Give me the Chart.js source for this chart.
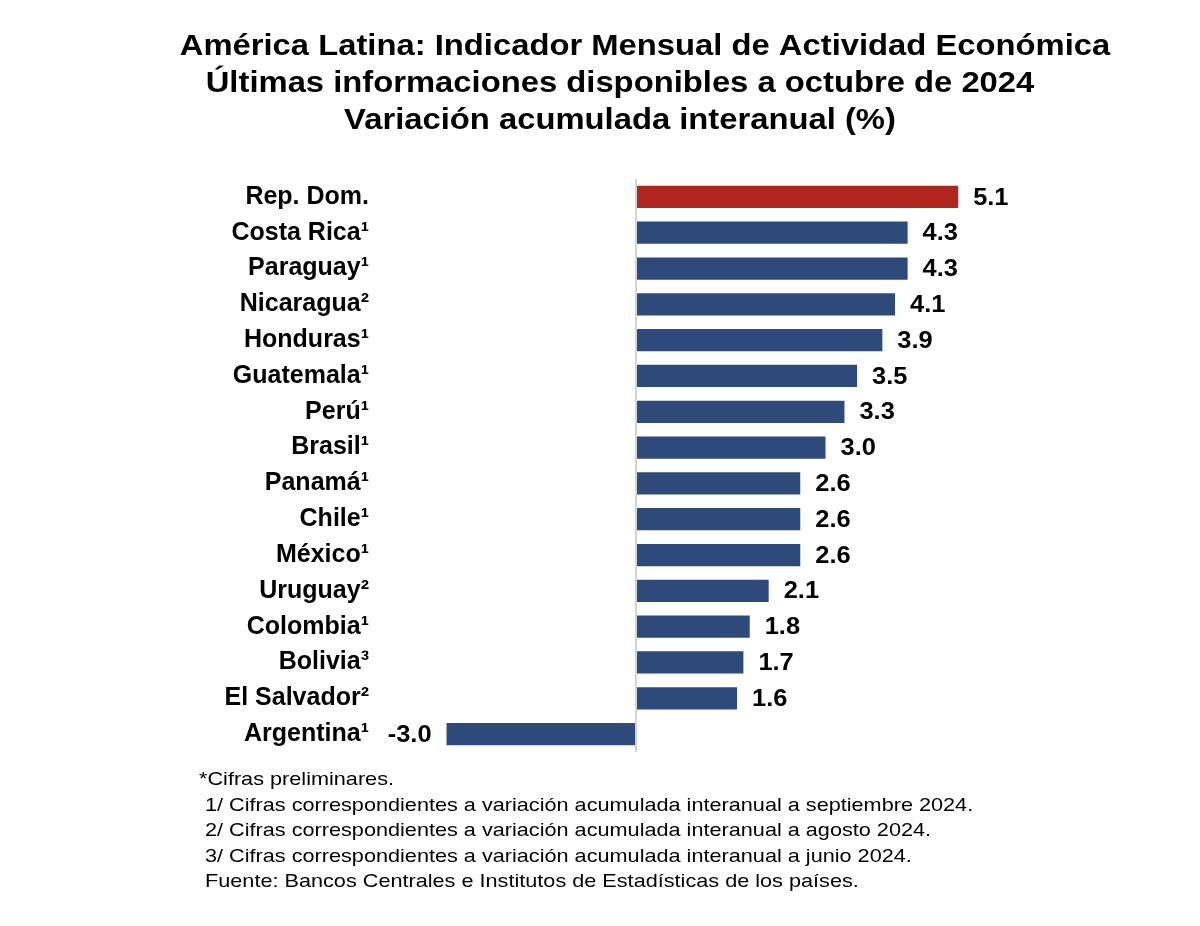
<!DOCTYPE html>
<html lang="es">
<head>
<meta charset="utf-8">
<title>América Latina: Indicador Mensual de Actividad Económica</title>
<script src="https://cdn.jsdelivr.net/npm/chart.js@4.4.1/dist/chart.umd.min.js"></script>
<style>
  html, body { margin: 0; padding: 0; background: #fff; }
  #wrap { width: 1200px; height: 926px; position: relative; }
</style>
</head>
<body>
<div id="wrap"><canvas id="chartActividad"></canvas></div>
<script>
const categories = ['Rep. Dom.', 'Costa Rica¹', 'Paraguay¹', 'Nicaragua²', 'Honduras¹', 'Guatemala¹',
  'Perú¹', 'Brasil¹', 'Panamá¹', 'Chile¹', 'México¹', 'Uruguay²', 'Colombia¹', 'Bolivia³',
  'El Salvador²', 'Argentina¹'];
const values = [5.1, 4.3, 4.3, 4.1, 3.9, 3.5, 3.3, 3.0, 2.6, 2.6, 2.6, 2.1, 1.8, 1.7, 1.6, -3.0];
const highlight = 'Rep. Dom.';

const titleLines = [
  'América Latina: Indicador Mensual de Actividad Económica',
  'Últimas informaciones disponibles a octubre de 2024',
  'Variación acumulada interanual (%)'
];
const notes = [
  '*Cifras preliminares.',
  ' 1/ Cifras correspondientes a variación acumulada interanual a septiembre 2024.',
  ' 2/ Cifras correspondientes a variación acumulada interanual a agosto 2024.',
  ' 3/ Cifras correspondientes a variación acumulada interanual a junio 2024.',
  ' Fuente: Bancos Centrales e Institutos de Estadísticas de los países.'
];

const BLUE = '#2E4A7B';
const RED = '#B0251D';
const FONT = '"Liberation Sans", Arial, Helvetica, sans-serif';

// the source's text is a bit wider than Arial, so stretch it horizontally
function stretchedText(ctx, text, x, y, sx) {
  ctx.save();
  ctx.translate(x, y);
  ctx.scale(sx, 1);
  ctx.fillText(text, 0, 0);
  ctx.restore();
}

// title + footnotes drawn as canvas text
const textPlugin = {
  id: 'textBlocks',
  afterDraw(chart) {
    const ctx = chart.ctx;
    ctx.save();
    ctx.fillStyle = '#000';
    ctx.textBaseline = 'alphabetic';
    ctx.textAlign = 'center';
    ctx.font = 'bold 29px ' + FONT;
    const centers = [645, 620, 620];
    titleLines.forEach((t, i) => stretchedText(ctx, t, centers[i], 55 + i * 37, 1.13));

    ctx.textAlign = 'left';
    ctx.font = '19px ' + FONT;
    notes.forEach((t, i) => stretchedText(ctx, t, 199, 785 + i * 25.5, 1.14));
    ctx.restore();
  }
};

// value labels at the end of each bar
const valueLabels = {
  id: 'valueLabels',
  afterDatasetsDraw(chart) {
    const ctx = chart.ctx;
    const meta = chart.getDatasetMeta(0);
    ctx.save();
    ctx.font = 'bold 24px ' + FONT;
    ctx.fillStyle = '#000';
    ctx.textBaseline = 'middle';
    meta.data.forEach((bar, i) => {
      const v = values[i];
      if (v >= 0) {
        ctx.textAlign = 'left';
        stretchedText(ctx, v.toFixed(1), bar.x + 15, bar.y + 1, 1.06);
      } else {
        ctx.textAlign = 'right';
        stretchedText(ctx, v.toFixed(1), bar.x - 15, bar.y + 1, 1.06);
      }
    });
    ctx.restore();
  }
};

new Chart(document.getElementById('chartActividad'), {
  type: 'bar',
  data: {
    labels: categories,
    datasets: [{
      data: values,
      backgroundColor: categories.map(c => c === highlight ? RED : BLUE),
      barPercentage: 0.62,
      categoryPercentage: 1.0
    }]
  },
  options: {
    indexAxis: 'y',
    responsive: true,
    maintainAspectRatio: false,
    animation: false,
    layout: { padding: { top: 179, bottom: 174, left: 0, right: 185 } },
    plugins: {
      legend: { display: false },
      title: { display: false },
      tooltip: { enabled: false }
    },
    scales: {
      x: {
        min: -3.8,
        max: 6,
        ticks: { display: false, stepSize: 1 },
        border: { display: false },
        grid: {
          drawTicks: false,
          lineWidth: 2,
          color: (c) => (c.tick && c.tick.value === 0) ? '#d4d4d4' : 'rgba(0,0,0,0)'
        }
      },
      y: {
        afterFit(scale) { scale.width = 396; },
        border: { display: false },
        grid: { display: false, drawTicks: false },
        ticks: {
          color: '#000',
          padding: 27,
          font: { family: FONT, size: 25, weight: 'bold' }
        }
      }
    }
  },
  plugins: [textPlugin, valueLabels]
});
</script>
</body>
</html>
